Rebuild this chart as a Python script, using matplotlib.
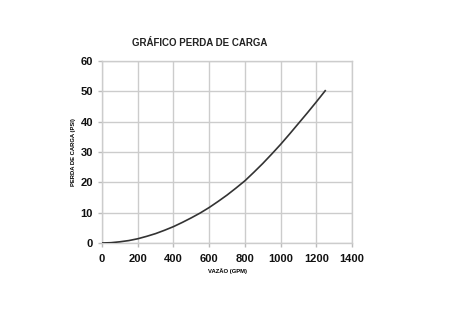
import matplotlib
matplotlib.use("Agg")
import matplotlib.pyplot as plt

# vazão (GPM) vs perda de carga (PSI)
vazao = [0, 50, 100, 150, 200, 250, 300, 350, 400, 450, 500, 550, 600, 650, 700, 750,
         800, 850, 900, 950, 1000, 1050, 1100, 1150, 1200, 1250]
perda = [0, 0.1, 0.4, 0.8, 1.4, 2.2, 3.1, 4.2, 5.4, 6.8, 8.3, 9.9, 11.7, 13.7, 15.8, 18.1,
         20.5, 23.3, 26.2, 29.3, 32.5, 35.9, 39.4, 42.9, 46.5, 50.2]

x_ticks = [0, 200, 400, 600, 800, 1000, 1200, 1400]
y_ticks = [0, 10, 20, 30, 40, 50, 60]

plt.rcParams['font.family'] = ['Liberation Sans', 'DejaVu Sans']

fig = plt.figure(figsize=(4.64, 3.21), dpi=100)
ax = fig.add_axes([0.22, 0.243, 0.5386, 0.567])

ax.plot(vazao, perda, color='#333333', linewidth=1.2, zorder=3)

ax.set_xlim(0, 1400)
ax.set_ylim(0, 60)
ax.set_xticks(x_ticks)
ax.set_yticks(y_ticks)
ax.grid(True, color='#cccccc', linewidth=1.0)
for s in ax.spines.values():
    s.set_color('#cccccc')
    s.set_linewidth(1.0)
ax.tick_params(colors='#bbbbbb', length=3, width=1.0, labelcolor='#111111', labelsize=8)
ax.tick_params(axis='x', pad=5)
for lbl in ax.get_xticklabels() + ax.get_yticklabels():
    lbl.set_fontweight('bold')

ax.set_xlabel('VAZÃO (GPM)', fontsize=4.2, fontweight='bold', labelpad=3)
ax.set_ylabel('PERDA DE CARGA (PSI)', fontsize=4.2, fontweight='bold', labelpad=3)

fig.text(200 / 464, 1 - 43 / 321, 'GRÁFICO PERDA DE CARGA', ha='center', va='center',
         fontsize=7, fontweight='bold', color='#222222')

fig.savefig('out.png', dpi=100)
